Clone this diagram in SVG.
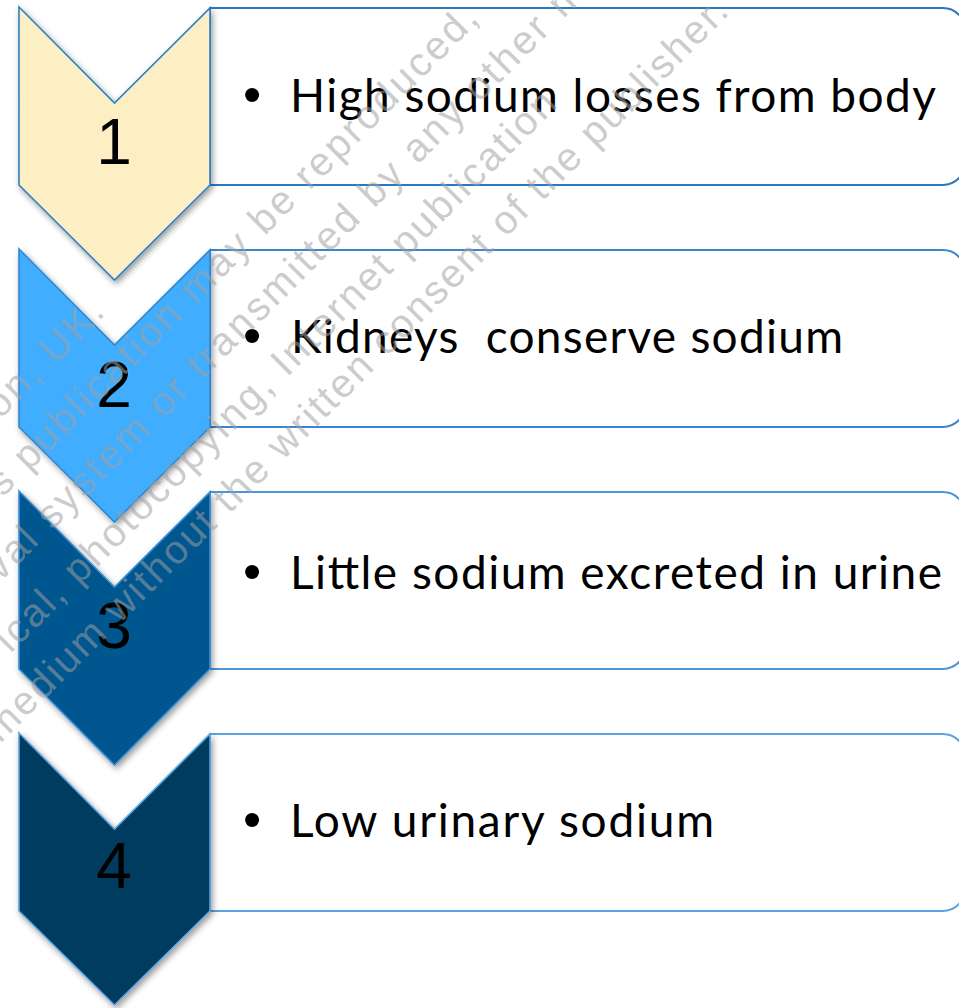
<svg xmlns="http://www.w3.org/2000/svg" width="959" height="1008" viewBox="0 0 959 1008">
<defs>
<style>
.box{fill:#ffffff;stroke-width:2}
.chev{stroke-width:1.6;filter:url(#shadow)}
.num{font-family:"Liberation Sans",Arial,sans-serif;font-size:64px;fill:#000;text-anchor:middle}
.lbl{font-family:Lato,"Open Sans",sans-serif;font-size:46px;fill:#000}
.bul{font-family:"Liberation Sans",Arial,sans-serif;font-size:52px}
.wm{font-family:"Liberation Sans",Arial,sans-serif;font-size:40px;fill:#a0a0a0;fill-opacity:0.55}
</style>
<filter id="shadow" x="-20%" y="-20%" width="140%" height="140%">
<feDropShadow dx="2" dy="3" stdDeviation="3" flood-color="#000" flood-opacity="0.4"/>
</filter>
</defs>
<rect width="959" height="1008" fill="#ffffff"/>

<g id="step1">
<path class="box" stroke="#2A78C2" d="M210,8 H943 A22,22 0 0 1 965,30 V163 A22,22 0 0 1 943,185 H210 Z"/>
<path class="chev" fill="#FDEFC4" stroke="#2F80C4" d="M19,7 L114.5,103 L210,8 L210,185 L114.5,280 L19,185 Z"/>
<text class="num" x="114" y="164">1</text>
<text class="lbl" y="112"><tspan class="bul" x="243">•</tspan><tspan x="290" textLength="646" lengthAdjust="spacing">High sodium losses from body</tspan></text>
</g>

<g id="step2">
<path class="box" stroke="#3A86CF" d="M210,250 H943 A22,22 0 0 1 965,272 V405 A22,22 0 0 1 943,427 H210 Z"/>
<path class="chev" fill="#41ADFF" stroke="#2F87D0" d="M19,249 L114.5,345 L210,250 L210,427 L114.5,522 L19,427 Z"/>
<text class="num" x="114" y="407">2</text>
<text class="lbl" y="353"><tspan class="bul" x="243">•</tspan><tspan x="291" textLength="552" lengthAdjust="spacing" xml:space="preserve">Kidneys  conserve sodium</tspan></text>
</g>

<g id="step3">
<path class="box" stroke="#4C95D8" d="M210,492 H943 A22,22 0 0 1 965,514 V647 A22,22 0 0 1 943,669 H210 Z"/>
<path class="chev" fill="#02568F" stroke="#3C8FD6" d="M19,491 L114.5,587 L210,492 L210,669 L114.5,765 L19,669 Z"/>
<text class="num" x="114" y="648">3</text>
<text class="lbl" y="589"><tspan class="bul" x="243">•</tspan><tspan x="290" textLength="652" lengthAdjust="spacing">Little sodium excreted in urine</tspan></text>
</g>

<g id="step4">
<path class="box" stroke="#5EA3DF" d="M210,734 H943 A22,22 0 0 1 965,756 V889 A22,22 0 0 1 943,911 H210 Z"/>
<path class="chev" fill="#043A60" stroke="#5BA3E0" d="M19,733 L114.5,829 L210,734 L210,911 L114.5,1005 L19,911 Z"/>
<text class="num" x="114" y="888">4</text>
<text class="lbl" y="837"><tspan class="bul" x="243">•</tspan><tspan x="290" textLength="424" lengthAdjust="spacing">Low urinary sodium</tspan></text>
</g>

<g id="connectors"></g>

<g id="watermark" transform="rotate(-45)">
<text class="wm" x="-297" y="297" textLength="150" lengthAdjust="spacing">on, UK.</text>
<text class="wm" x="-350" y="354" textLength="675" lengthAdjust="spacing">s publication may be reproduced,</text>
<text class="wm" x="-412" y="412" textLength="830" lengthAdjust="spacing">val system or transmitted by any other m</text>
<text class="wm" x="-455" y="470" textLength="775" lengthAdjust="spacing">ical, photocopying, Internet publication</text>
<text class="wm" x="-526" y="526" textLength="1033" lengthAdjust="spacing">medium without the written consent of the publisher.</text>
</g>
</svg>
